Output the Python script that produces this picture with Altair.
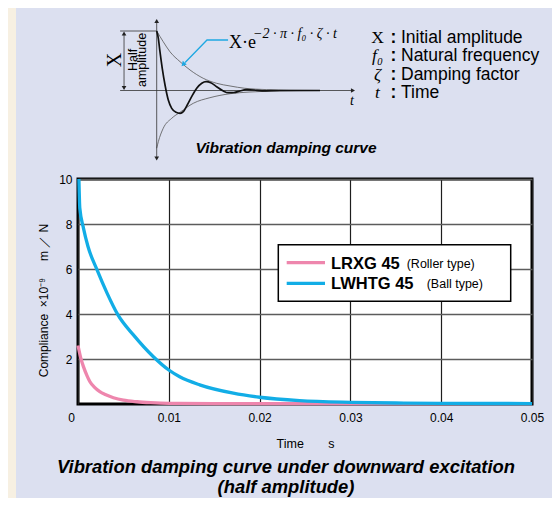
import altair as alt
import pandas as pd

# ---------------- main chart values ----------------
series_names = ["LRXG 45", "LWHTG 45"]
series_notes = ["(Roller type)", "(Ball type)"]
series_colors = ["#ee86ad", "#12ade6"]

lrxg_time = [0.0, 0.0003, 0.0006, 0.001, 0.0013, 0.0018, 0.0024, 0.003, 0.0039,
             0.005, 0.0065, 0.008, 0.01, 0.015, 0.02, 0.03, 0.04, 0.05]
lrxg_compliance = [2.6, 2.05, 1.66, 1.25, 1.0, 0.75, 0.55, 0.42, 0.28,
                   0.17, 0.1, 0.06, 0.03, 0.02, 0.02, 0.02, 0.02, 0.02]

lwhtg_time = [0.0001, 0.0002, 0.0006, 0.0011, 0.0021, 0.0032, 0.0044, 0.0061, 0.0083,
              0.01, 0.0112, 0.0134, 0.0171, 0.02, 0.0244, 0.03, 0.035, 0.04, 0.05]
lwhtg_compliance = [10.0, 8.7, 7.82, 7.0, 5.96, 4.93, 3.96, 3.07, 2.1,
                    1.51, 1.21, 0.85, 0.48, 0.3, 0.15, 0.075, 0.045, 0.03, 0.02]

x_ticks = [0, 0.01, 0.02, 0.03, 0.04, 0.05]
y_ticks = [2, 4, 6, 8, 10]

NB = "\u00a0"
x_title = "Time" + NB * 7 + "s"
y_title = "Compliance" + NB * 2 + "\u00d710\u207b\u2079" + NB * 5 + "m" + NB + "\uff0f" + NB + "N"
caption_top = "Vibration damping curve"
caption_bottom = "Vibration damping curve under downward excitation\n(half amplitude)"

# ---------------- schematic (normalised units: u = time, a = amplitude) ----------------
upper_env_u = [0, 0.04, 0.081, 0.143, 0.204, 0.285, 0.367, 0.449, 0.54, 0.674, 0.816, 1.0]
upper_env_a = [1, 0.82, 0.652, 0.484, 0.345, 0.205, 0.121, 0.076, 0.037, 0.015, 0.003, 0.0]
lower_env_u = [0, 0.01, 0.04, 0.092, 0.143, 0.224, 0.326, 0.449, 0.571, 0.755, 1.0]
lower_env_a = [-0.97, -0.86, -0.635, -0.467, -0.366, -0.215, -0.121, -0.054, -0.025, -0.008, 0.0]
damped_u = [0, 0.01, 0.02, 0.034, 0.051, 0.071, 0.092, 0.118, 0.143, 0.163, 0.187, 0.214,
            0.245, 0.276, 0.302, 0.331, 0.367, 0.408, 0.437, 0.473, 0.51, 0.547, 0.596,
            0.645, 0.755, 1.0]
damped_a = [1, 0.877, 0.652, 0.373, 0.092, -0.16, -0.3, -0.366, -0.383, -0.356, -0.244, -0.104,
            0.037, 0.121, 0.148, 0.131, 0.064, -0.008, -0.037, -0.034, -0.008, 0.015, 0.008,
            -0.007, 0.0, 0.0]
pointer_u = [0.437, 0.308, 0.174]
pointer_a = [0.849, 0.849, 0.47]

symbols = ["X", "f\u2080", "\u03b6", "t"]
meanings = ["Initial amplitude", "Natural frequency", "Damping factor", "Time"]

SANS = "Liberation Sans"
SERIF = "Liberation Serif"

# ---------------- main curves ----------------
rows = []
for name, ts, vs in [(series_names[0], lrxg_time, lrxg_compliance),
                     (series_names[1], lwhtg_time, lwhtg_compliance)]:
    for i, (t, v) in enumerate(zip(ts, vs)):
        rows.append({"series": name, "t": t, "v": v, "i": i})
main_df = pd.DataFrame(rows)

x_axis = alt.Axis(
    values=x_ticks, format=".2~f", grid=True, gridColor="#1e1e1e", gridWidth=1.2,
    domain=False, ticks=False, labelFlush=False, labelPadding=8,
    labelFont=SANS, labelFontSize=12, labelColor="black",
    labelOffset={"condition": {"test": "datum.value === 0", "value": -7}, "value": 0},
    title=x_title, titleFont=SANS, titleFontSize=12.5, titleFontWeight="normal",
    titleColor="black", titlePadding=14,
)
y_axis = alt.Axis(
    values=y_ticks, grid=True, gridColor="#5c5c5c", gridWidth=1.4,
    domain=False, ticks=False, labelFlush=False, labelPadding=6,
    labelFont=SANS, labelFontSize=12, labelColor="black",
    title=y_title, titleFont=SANS, titleFontSize=12,
    titleFontWeight="normal", titleColor="black",
    titleX=-35, titleY=121, titleBaseline="middle", titleAlign="center", titleAngle=270,
)

main = alt.Chart(main_df).mark_line(strokeWidth=3.3, interpolate="monotone").encode(
    x=alt.X("t:Q", scale=alt.Scale(domain=[0, 0.05], nice=False, zero=False), axis=x_axis),
    y=alt.Y("v:Q", scale=alt.Scale(domain=[0, 10], nice=False), axis=y_axis),
    color=alt.Color("series:N", scale=alt.Scale(domain=series_names, range=series_colors), legend=None),
    order="i:Q",
)

# ---------------- schematic ----------------
SU = alt.Scale(domain=[0, 1], range=[78.7, 242], nice=False, zero=False)
SA = alt.Scale(domain=[-1, 1], range=[-29, -148], nice=False, zero=False)


def sx(f="u"):
    return alt.X(f"{f}:Q", scale=SU, axis=None)


def sy(f="a"):
    return alt.Y(f"{f}:Q", scale=SA, axis=None)


curve_rows = []
for k, (us, as_) in enumerate([(upper_env_u, upper_env_a), (lower_env_u, lower_env_a)]):
    for i, (u, a) in enumerate(zip(us, as_)):
        curve_rows.append({"k": k, "i": i, "u": u, "a": a})
env = alt.Chart(pd.DataFrame(curve_rows)).mark_line(
    color="#555555", strokeWidth=0.8, interpolate="monotone").encode(
    x=sx(), y=sy(), detail="k:N", order="i:Q")

damped = alt.Chart(pd.DataFrame({"u": damped_u, "a": damped_a, "i": range(len(damped_u))})).mark_line(
    color="#111111", strokeWidth=1.7, interpolate="monotone").encode(x=sx(), y=sy(), order="i:Q")

segs = pd.DataFrame({
    "u": [-0.224, 0.0, -0.224, -0.2],
    "u2": [1.2, 0.0, 0.0, -0.2],
    "a": [0.0, 1.168, 1.0, 0.96],
    "a2": [0.0, -1.143, 1.0, 0.04],
})
axes_lines = alt.Chart(segs).mark_rule(color="#333333", strokeWidth=0.8).encode(
    x=sx(), x2="u2:Q", y=sy(), y2="a2:Q")

heads = pd.DataFrame({
    "u": [0.0, 0.0, 1.202, -0.2, -0.2],
    "a": [1.168, -1.143, 0.0, 0.958, 0.042],
    "ang": [0, 180, 90, 0, 180],
})
arrow_heads = alt.Chart(heads).mark_point(shape="triangle-up", filled=True, color="#222222",
                                          size=22, opacity=1).encode(
    x=sx(), y=sy(), angle=alt.Angle("ang:Q", scale=None))

pointer = alt.Chart(pd.DataFrame({"u": pointer_u, "a": pointer_a, "i": [0, 1, 2]})).mark_line(
    color="#1ea8e2", strokeWidth=1.3).encode(x=sx(), y=sy(), order="i:Q")
pointer_head = alt.Chart(pd.DataFrame({"u": [0.162], "a": [0.438], "ang": [223]})).mark_point(
    shape="triangle-up", filled=True, color="#1ea8e2", size=30, opacity=1).encode(
    x=sx(), y=sy(), angle=alt.Angle("ang:Q", scale=None))


def stext(rows_, **kw):
    d = pd.DataFrame(rows_, columns=["u", "a", "label"])
    return alt.Chart(d).mark_text(**kw).encode(x=sx(), y=sy(), text="label:N")


big_x = stext([[-0.258, 0.513, "X"]], font=SERIF, fontSize=20, angle=270, align="center",
              baseline="middle", color="black")
half_amp = stext([[-0.148, 0.513, "Half"], [-0.087, 0.513, "amplitude"]], font=SANS,
                 fontSize=12.5, angle=270, align="center", baseline="middle", color="black")
formula = stext([[0.443, 0.706, "X\u00b7e"]], font=SERIF, fontSize=18, align="left",
                baseline="alphabetic", color="black")
exponent = stext([[0.59, 0.874, "\u22122 \u00b7 \u03c0 \u00b7 f\u2080 \u00b7 \u03b6 \u00b7 t"]], font=SERIF,
                 fontStyle="italic", fontSize=14, align="left", baseline="alphabetic", color="black")
t_label = stext([[1.196, -0.176, "t"]], font=SERIF, fontStyle="italic", fontSize=14,
                align="center", baseline="middle", color="black")

schematic = alt.layer(env, axes_lines, damped, arrow_heads, pointer, pointer_head,
                      big_x, half_amp, formula, exponent, t_label)

# ---------------- definitions list ----------------
defs_df = pd.DataFrame({"row": list(range(len(symbols))), "sym": symbols, "desc": meanings})
ROWS = alt.Y("row:O", scale=alt.Scale(type="point", domain=[0, 1, 2, 3], range=[-135.7, -81.3], padding=0),
             axis=None)
def_sym0 = alt.Chart(defs_df).transform_filter("datum.row == 0").mark_text(
    font=SERIF, fontSize=17.5, align="center", baseline="alphabetic", color="black").encode(
    x=alt.value(299.5), y=ROWS, text="sym:N")
def_sym = alt.Chart(defs_df).transform_filter("datum.row > 0").mark_text(
    font=SERIF, fontStyle="italic", fontSize=17.5, align="center", baseline="alphabetic", color="black").encode(
    x=alt.value(299.5), y=ROWS, text="sym:N")
def_colon = alt.Chart(defs_df).mark_text(
    font=SANS, fontWeight="bold", fontSize=17.5, align="center", baseline="alphabetic", color="black").encode(
    x=alt.value(315.3), y=ROWS, text=alt.value(":"))
def_desc = alt.Chart(defs_df).mark_text(
    font=SANS, fontSize=17.5, align="left", baseline="alphabetic", color="black").encode(
    x=alt.value(323), y=ROWS, text="desc:N")
defs = alt.layer(def_sym0, def_sym, def_colon, def_desc)

captions = alt.Chart(pd.DataFrame({"c": [caption_top, caption_bottom], "k": ["top", "bottom"]}))
top_caption = captions.transform_filter("datum.k == 'top'").mark_text(
    font=SANS, fontSize=15.5, fontWeight="bold", fontStyle="italic", align="center",
    baseline="alphabetic", color="black").encode(x=alt.value(208), y=alt.value(-26.5), text="c:N")
bottom_caption = captions.transform_filter("datum.k == 'bottom'").mark_text(
    font=SANS, fontSize=18.4, fontWeight="bold", fontStyle="italic", align="center",
    baseline="alphabetic", color="black", lineBreak="\n", lineHeight=19.5).encode(
    x=alt.value(208), y=alt.value(294), text="c:N")

# ---------------- legend ----------------
leg_df = pd.DataFrame({"row": [0, 1], "series": series_names, "note": series_notes})
LROWS = alt.Y("row:O", scale=alt.Scale(type="point", domain=[0, 1], range=[83.7, 104.3], padding=0),
              axis=None)
leg_box = alt.Chart(pd.DataFrame({"b": [0]})).mark_rect(
    fill="white", stroke="black", strokeWidth=1.5).encode(
    x=alt.value(200.3), x2=alt.value(432.7), y=alt.value(65.7), y2=alt.value(122.3))
leg_lines = alt.Chart(leg_df).mark_rule(strokeWidth=3.3).encode(
    x=alt.value(208.7), x2=alt.value(247), y=LROWS,
    color=alt.Color("series:N", scale=alt.Scale(domain=series_names, range=series_colors), legend=None))
leg_names = alt.Chart(leg_df).mark_text(
    font=SANS, fontSize=16.5, fontWeight="bold", align="left", baseline="middle", color="black", dy=1).encode(
    x=alt.value(253), y=LROWS, text="series:N")
leg_note0 = alt.Chart(leg_df).transform_filter("datum.row == 0").mark_text(
    font=SANS, fontSize=12.5, align="left", baseline="middle", color="black", dy=1).encode(
    x=alt.value(328.7), y=LROWS, text="note:N")
leg_note1 = alt.Chart(leg_df).transform_filter("datum.row == 1").mark_text(
    font=SANS, fontSize=12.5, align="left", baseline="middle", color="black", dy=1).encode(
    x=alt.value(348.7), y=LROWS, text="note:N")
legend = alt.layer(leg_box, leg_lines, leg_names, leg_note0, leg_note1)

# left beige strip of the page panel
strip = alt.Chart(pd.DataFrame({"b": [0]})).mark_rect(color="#f7f0e2").encode(
    x=alt.value(-70), x2=alt.value(-62), y=alt.value(-171), y2=alt.value(319))

chart = alt.layer(strip, main, schematic, defs, top_caption, bottom_caption, legend).resolve_scale(
    x="independent", y="independent"
).properties(
    width=454, height=225,
    padding={"left": 70, "top": 171, "right": 20, "bottom": 94},
    autosize=alt.AutoSizeParams(type="none"),
    background="#dce0f0",
).configure_view(fill="white", stroke="black", strokeWidth=3)

chart.save("out.html", embed_options={"renderer": "svg", "actions": False})
